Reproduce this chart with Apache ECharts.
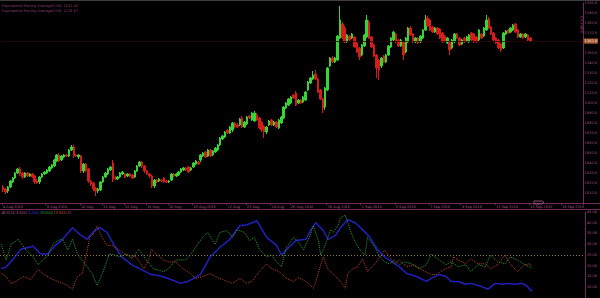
<!DOCTYPE html>
<html><head><meta charset="utf-8">
<script src="https://cdn.jsdelivr.net/npm/echarts@6/dist/echarts.min.js"></script>
<style>html,body{margin:0;padding:0;background:#000}#c{width:600px;height:298px}</style>
</head><body><div id="c"></div><script>
const open=[1016,1014,1012,1016,1021,1025,1030,1034,1030,1026,
1030,1027,1029,1027,1022,1021,1026,1029,1030,1032,
1035,1037,1042,1048,1043,1046,1048,1047,1053,1056,
1048,1046,1047,1032,1039,1034,1022,1020,1015,1012,
1013,1021,1026,1029,1033,1040,1025,1024,1026,1029,
1029,1027,1029,1028,1026,1032,1037,1041,1037,1032,
1029,1027,1017,1023,1022,1023,1025,1022,1021,1023,
1029,1027,1028,1031,1033,1035,1036,1033,1036,1039,
1041,
1043,1047,1051,1047,1053,1048,1051,1053,1058,1064,
1066,1073,1070,1073,1080,1078,1078,1085,1076,1079,
1087,1083,1082,1088,1085,1081,1077,1071,1078,1083,
1078,1081,1075,1080,1085,1095,1098,1100,1108,1110,
1100,1103,1101,1103,1113,1120,1124,1129,1124,1113,
1104,1096,1113,1137,1145,1141,1143,1165,1179,1175,
1161,1167,1165,1166,1160,1155,1148,1157,1166,1181,
1166,1158,1148,1143,1137,1147,1141,1148,1156,1163,
1169,1163,1157,1161,1151,1161,1175,1169,1161,1165,
1161,1165,1173,1185,1183,1176,1171,1175,1174,1170,
1167,1160,1161,1155,1161,1169,1165,1159,1165,1162,
1161,1170,1169,1166,1163,1169,1167,1173,1184,1176,
1170,1165,1163,1159,1155,1169,1173,1171,1173,1179,
1173,1166,1169,1166,1168,1165];
const close=[1013,1011,1016,1022,1025,1030,1034,1029,1026,1030,
1027,1029,1026,1021,1020,1026,1029,1031,1033,1036,
1038,1043,1048,1042,1047,1048,1047,1053,1056,1047,
1047,1048,1032,1039,1033,1022,1019,1014,1012,1014,
1021,1026,1030,1034,1036,1024,1024,1026,1030,1031,
1026,1029,1027,1025,1032,1037,1041,1037,1032,1029,
1027,1017,1023,1021,1024,1022,1021,1021,1022,1029,
1027,1029,1031,1034,1035,1033,1031,1035,1040,1042,
1039,
1048,1050,1046,1053,1047,1052,1055,1058,1065,1067,
1071,1070,1076,1080,1076,1076,1084,1076,1081,1086,
1085,1090,1090,1083,1075,1073,1071,1076,1082,1078,
1081,1076,1083,1086,1096,1100,1104,1106,1105,1098,
1103,1100,1106,1111,1121,1125,1128,1124,1111,1104,
1095,1115,1135,1145,1141,1145,1167,1183,1165,1161,
1168,1163,1169,1156,1151,1146,1158,1168,1183,1165,
1156,1147,1135,1133,1145,1141,1148,1157,1165,1171,
1161,1157,1163,1148,1165,1175,1168,1161,1165,1160,
1167,1173,1183,1177,1173,1171,1175,1169,1165,1161,
1162,1165,1153,1163,1169,1165,1158,1163,1161,1166,
1168,1163,1161,1161,1173,1165,1175,1183,1175,1169,
1163,1160,1155,1153,1170,1172,1170,1175,1178,1171,
1166,1169,1165,1169,1163,1162];
const low=[1011,1009,1010,1015,1020,1024,1029,1027,1024,1025,
1026,1026,1025,1019,1019,1019,1025,1028,1029,1031,
1034,1036,1041,1041,1042,1045,1046,1046,1052,1045,
1046,1044,1030,1030,1031,1020,1017,1012,1007,1010,
1012,1020,1025,1028,1032,1021,1023,1023,1025,1028,
1025,1026,1026,1024,1025,1031,1036,1035,1030,1028,
1025,1015,1015,1020,1021,1021,1020,1020,1020,1022,
1026,1026,1027,1030,1032,1032,1030,1032,1035,1038,
1038,
1041,1046,1045,1046,1046,1047,1050,1052,1057,1063,
1065,1069,1069,1071,1075,1075,1077,1075,1075,1078,
1084,1082,1081,1082,1074,1071,1065,1069,1077,1077,
1077,1075,1074,1079,1084,1094,1097,1099,1104,1097,
1099,1099,1100,1102,1112,1119,1123,1123,1110,1103,
1090,1093,1112,1136,1140,1140,1142,1164,1164,1160,
1160,1162,1164,1155,1150,1143,1147,1156,1165,1164,
1155,1146,1125,1123,1135,1140,1140,1147,1155,1162,
1160,1156,1156,1143,1150,1160,1167,1160,1160,1159,
1160,1164,1172,1176,1172,1170,1170,1168,1164,1160,
1161,1159,1148,1154,1160,1164,1157,1158,1160,1161,
1160,1162,1160,1160,1162,1164,1166,1172,1174,1168,
1162,1159,1154,1151,1154,1168,1169,1170,1172,1170,
1165,1165,1164,1165,1162,1161];
const high=[1018,1015,1017,1023,1026,1031,1035,1036,1031,1031,
1031,1030,1030,1028,1024,1027,1030,1032,1034,1037,
1039,1044,1049,1050,1048,1049,1049,1054,1058,1058,
1049,1049,1048,1040,1040,1035,1023,1021,1016,1015,
1022,1027,1031,1035,1037,1043,1027,1027,1031,1032,
1030,1030,1030,1029,1033,1038,1042,1042,1038,1033,
1030,1028,1024,1024,1025,1024,1026,1023,1023,1030,
1030,1030,1032,1035,1036,1036,1037,1036,1041,1043,
1042,
1049,1051,1052,1054,1054,1053,1056,1059,1066,1068,
1072,1074,1077,1081,1081,1080,1085,1087,1082,1087,
1088,1091,1092,1090,1086,1082,1078,1077,1083,1084,
1082,1082,1084,1087,1097,1101,1105,1107,1109,1112,
1104,1104,1107,1112,1122,1126,1132,1133,1125,1114,
1105,1116,1136,1146,1147,1146,1168,1197,1181,1177,
1169,1168,1170,1167,1161,1156,1159,1169,1188,1183,
1167,1159,1149,1144,1146,1148,1149,1158,1166,1172,
1170,1164,1164,1162,1166,1176,1177,1170,1166,1166,
1168,1174,1188,1187,1184,1177,1176,1176,1175,1171,
1168,1166,1162,1164,1170,1170,1166,1164,1166,1167,
1169,1171,1170,1167,1174,1170,1176,1188,1186,1177,
1171,1166,1164,1160,1171,1173,1174,1176,1179,1180,
1174,1170,1170,1170,1169,1166];

const totalBars=238;
const tickBars=[1,19,33,42,51,60,69,79,93,101,111,119,134,148,162,176,189,203,217,230];
const tickLabels=["4 Aug 2016","8 Aug 2016","10 Aug","11 Aug","12 Aug","15 Aug","16 Aug","18 Aug 2016","22 Aug","23 Aug","24 Aug","26 Aug 2016","30 Aug 2016","1 Sep 2016","5 Sep 2016","7 Sep 2016","9 Sep 2016","13 Sep 2016","15 Sep 2016","19 Sep 2016"];

const adx=[[1,18.6],[3,19.5],[6,23.2],[9,27.7],[14,29.1],[17,25.5],[20,25.5],[23,29.5],[26,32.3],[30,37.7],
[33,34.5],[36,32.3],[39,36.4],[41,37.7],[44,35.5],[47,29.5],[50,24.1],[54,20.5],[58,18.2],[62,15.9],
[65,15.5],[69,14.1],[74,11.8],[77,12.7],[82,15.9],[86,24.1],[90,28.6],[94,32.3],[98,38.6],[101,39.1],
[105,40.9],[109,33.2],[113,29.5],[115,25.0],[118,28.6],[121,31.8],[125,32.3],[127,36.8],[129,40.0],[132,36.4],
[134,32.3],[137,34.1],[139,37.7],[142,41.4],[145,40.0],[148,36.8],[151,33.2],[154,27.7],[157,24.1],[160,21.8],
[163,19.5],[166,16.4],[170,15.0],[174,12.7],[176,14.1],[179,15.9],[182,15.0],[184,12.7],[187,12.7],[190,11.4],
[192,11.8],[196,10.5],[199,9.1],[202,11.8],[205,11.4],[207,11.8],[210,11.4],[213,11.8],[215,10.5],[216,9.1],[217,8.2]];
const plusDI=[[1,30.0],[3,22.7],[5,30.0],[8,32.3],[11,27.3],[14,24.1],[16,20.5],[20,25.0],[22,30.0],[24,31.8],
[26,32.3],[28,27.3],[30,32.3],[32,25.5],[35,20.9],[38,16.4],[40,10.9],[42,15.9],[45,25.5],[47,25.0],
[49,24.1],[52,25.5],[54,23.2],[57,27.7],[60,22.7],[63,18.6],[67,17.3],[69,18.6],[72,22.7],[76,22.7],
[78,25.0],[80,28.6],[83,33.2],[85,35.5],[88,30.0],[90,35.5],[93,36.4],[95,33.2],[97,36.8],[100,35.5],
[102,31.8],[104,33.2],[106,27.7],[109,24.1],[111,25.0],[113,21.8],[115,19.5],[117,28.6],[120,33.2],[122,30.9],
[124,27.3],[126,32.3],[128,38.6],[130,31.8],[131,25.0],[133,30.0],[135,36.8],[136,35.5],[138,38.6],[139,42.3],
[141,43.6],[143,36.4],[145,30.9],[147,27.3],[149,25.0],[150,33.2],[153,28.6],[155,24.1],[157,21.8],[159,20.9],
[161,22.7],[163,20.5],[165,21.8],[168,20.9],[171,18.6],[174,20.5],[176,25.5],[179,22.7],[182,20.5],[184,21.8],
[187,19.5],[190,20.5],[192,17.3],[195,20.5],[198,19.5],[200,25.0],[203,21.8],[206,20.9],[208,24.1],[211,22.7],
[214,20.5],[216,19.5],[217,18.6]];
const minusDI=[[1,16.4],[3,15.0],[5,11.8],[7,12.7],[10,15.0],[13,13.6],[16,18.2],[18,16.4],[21,14.1],[24,12.7],
[27,11.4],[30,9.1],[32,15.0],[34,16.4],[36,27.3],[37,33.2],[39,35.5],[40,38.6],[42,33.2],[44,29.5],
[46,29.5],[49,27.3],[52,25.0],[56,24.1],[59,18.6],[61,22.7],[62,27.7],[64,25.5],[67,22.7],[69,21.8],
[72,21.8],[75,18.6],[78,16.4],[80,14.1],[83,15.0],[86,16.4],[88,15.0],[91,13.6],[95,11.8],[98,14.1],
[101,11.8],[103,12.7],[106,17.3],[109,20.9],[111,18.6],[114,17.3],[117,14.1],[120,12.7],[122,14.5],[125,12.7],
[128,9.5],[129,12.7],[131,20.5],[132,24.1],[134,18.2],[137,15.0],[139,12.7],[141,9.5],[142,16.4],[144,18.6],
[146,19.5],[148,23.2],[150,17.3],[153,20.9],[155,24.1],[157,27.3],[159,24.1],[161,20.9],[163,22.7],[166,19.5],
[169,20.5],[172,18.2],[176,15.9],[178,15.9],[181,18.2],[184,19.5],[185,24.1],[187,22.7],[190,20.9],[192,23.2],
[195,20.9],[198,20.9],[200,18.6],[203,20.5],[206,25.0],[208,20.9],[211,17.3],[214,20.5],[216,20.9],[217,19.5]];
const adxLevel=25;
const maTexts=["Exponential Moving Average(100): 1151.42","Exponential Moving Average(200): 1118.67"];
const symbolText="INDEX,H4";

const cats=[];for(let i=0;i<totalBars;i++)cats.push(String(i+1));
const candles=open.map((o,i)=>[o,close[i],low[i],high[i]]);
const toPts=a=>a.map(p=>[p[0]-1,p[1]]);
const tickMap={};tickBars.forEach((b,k)=>{tickMap[b-1]=tickLabels[k];});
const lastClose=close[close.length-1];
const frame='#6e2a5c', txt='#a64e88';

const chart=echarts.init(document.getElementById('c'),null,{renderer:'canvas'});
chart.setOption({
  backgroundColor:'#000',animation:false,
  grid:[{left:0,right:13,top:3,height:200},{left:0,right:13,top:212,height:88}],
  xAxis:[
    {type:'category',data:cats,gridIndex:0,boundaryGap:true,
     axisLine:{show:false},
     axisTick:{show:true,interval:i=>(i in tickMap),length:2,lineStyle:{color:frame}},
     axisLabel:{interval:i=>(i in tickMap),formatter:(v,i)=>tickMap[i]||'',fontSize:3.5,color:txt,align:'left',margin:2,fontFamily:'DejaVu Sans'},
     splitLine:{show:false}},
    {type:'category',data:cats,gridIndex:1,boundaryGap:true,show:false}
  ],
  yAxis:[
    {type:'value',gridIndex:0,position:'right',min:1000,max:1200,interval:10,scale:true,
     axisLine:{show:true,lineStyle:{color:frame}},axisTick:{show:true,length:1,lineStyle:{color:frame}},
     axisLabel:{fontSize:3.5,color:txt,margin:2,showMinLabel:false,formatter:v=>v.toFixed(1),fontFamily:'DejaVu Sans'},
     splitLine:{show:false}},
    {type:'value',gridIndex:1,position:'right',min:5,max:45,interval:5,
     axisLine:{show:true,lineStyle:{color:frame}},axisTick:{show:true,length:1,lineStyle:{color:frame}},
     axisLabel:{fontSize:3.5,color:txt,margin:2,showMinLabel:false,formatter:v=>v.toFixed(2),fontFamily:'DejaVu Sans'},
     splitLine:{show:false}}
  ],
  series:[
    {type:'candlestick',xAxisIndex:0,yAxisIndex:0,data:candles,barWidth:2,
     itemStyle:{color:'#36d436',color0:'#d41c1c',borderColor:'#36d436',borderColor0:'#d41c1c',borderWidth:1},
     markLine:{silent:true,symbol:['none','none'],data:[{yAxis:lastClose}],
       lineStyle:{color:'#2a0707',width:1,type:'solid',opacity:0.8},
       label:{show:true,position:'end',distance:1,formatter:()=>lastClose.toFixed(1),
         backgroundColor:'#d0703c',color:'#fff',fontSize:3.5,padding:[1,1,0,1],fontFamily:'DejaVu Sans'}}},
    {type:'line',xAxisIndex:1,yAxisIndex:1,data:toPts(adx),symbol:'none',
     lineStyle:{color:'#2020bc',width:1.5},
     markLine:{silent:true,symbol:['none','none'],data:[{yAxis:adxLevel}],label:{show:false},
       lineStyle:{color:'#8a7840',width:1,type:[1,2]}}},
    {type:'line',xAxisIndex:1,yAxisIndex:1,data:toPts(plusDI),symbol:'none',
     lineStyle:{color:'#2f9c36',width:1,type:[1,1]}},
    {type:'line',xAxisIndex:1,yAxisIndex:1,data:toPts(minusDI),symbol:'none',
     lineStyle:{color:'#b84428',width:1,type:[1,1]}}
  ],
  graphic:[
    {type:'rect',left:0,top:0,shape:{width:600,height:1},style:{fill:'#3e3e3e'},silent:true},
    {type:'line',shape:{x1:0,y1:203.5,x2:600,y2:203.5},style:{stroke:frame,lineWidth:1},silent:true},
    {type:'line',shape:{x1:0,y1:209.5,x2:600,y2:209.5},style:{stroke:frame,lineWidth:1},silent:true},
    {type:'text',left:2,top:4,style:{text:maTexts[0],fill:'#8a3a6e',fontSize:3.5,fontFamily:'DejaVu Sans'},silent:true},
    {type:'text',left:2,top:9.5,style:{text:maTexts[1],fill:'#8a3a6e',fontSize:3.5,fontFamily:'DejaVu Sans'},silent:true},
    {type:'text',left:2,top:211,style:{
      text:'{a|ADX(14) '+adx[adx.length-1][1].toFixed(4)+'} {b|'+adx[adx.length-1][1].toFixed(4)+'} {c|'+plusDI[plusDI.length-1][1].toFixed(4)+'} {d|'+minusDI[minusDI.length-1][1].toFixed(4)+'} {a|'+adxLevel+'}',
      rich:{a:{fill:'#a64e88',fontSize:3.5},b:{fill:'#3030e0',fontSize:3.5},c:{fill:'#2f9c36',fontSize:3.5},d:{fill:'#c8482c',fontSize:3.5}},
      fontSize:3.5,fontFamily:'DejaVu Sans'},silent:true},
    {type:'text',x:580,y:33,rotation:Math.PI/2,style:{text:symbolText,fill:'#8a3a6e',fontSize:3.5,fontFamily:'DejaVu Sans'},silent:true},
    {type:'polygon',shape:{points:[[534,201],[542,201],[544,202.5],[542,204],[534,204]]},style:{fill:'none',stroke:'#b0608e',lineWidth:0.8},silent:true}
  ]
});
</script></body></html>
